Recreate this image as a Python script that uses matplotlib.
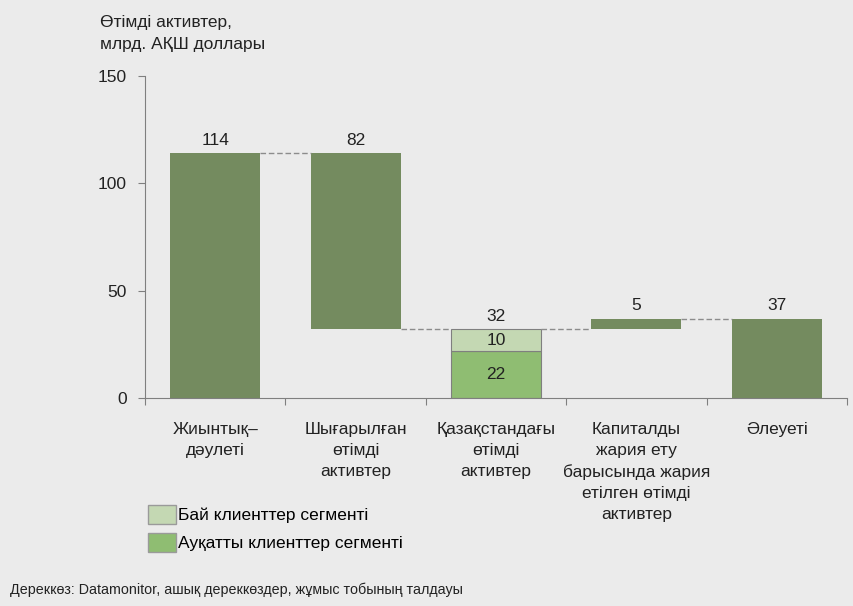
import numpy as np
import matplotlib.pyplot as plt
from matplotlib.patches import Patch

plt.rcParams['font.family'] = ['Liberation Sans', 'DejaVu Sans']

# waterfall data, bn USD
categories = ['Жиынтық–\nдәулеті', 'Шығарылған\nөтімді\nактивтер', 'Қазақстандағы\nөтімді\nактивтер',
              'Капиталды\nжария ету\nбарысында жария\nетілген өтімді\nактивтер', 'Әлеуеті']
values = [114, 82, 32, 5, 37]
rich_segment = 10
affluent_segment = 22
legend_labels = ['Бай клиенттер сегменті', 'Ауқатты клиенттер сегменті']

bg = '#ebebeb'
dark = '#748b5f'
mid = '#8fbd72'
light = '#c4d8b3'
txt = '#222222'
fs = 12.5

fig = plt.figure(figsize=(8.54, 6.06), dpi=100, facecolor=bg)
ax = fig.add_axes([145/854, 1-398/606, (847-145)/854, (398-76)/606])
ax.set_facecolor(bg)

x = np.arange(len(values))
w = 0.64

# bottoms / tops of each waterfall step
total = values[0]
after_out = total - values[1]
after_add = after_out + values[3]
tops = [total, total, after_out, after_add, values[4]]

ax.bar(x[0], values[0], w, bottom=0, color=dark)
ax.bar(x[1], values[1], w, bottom=after_out, color=dark)
ax.bar(x[2], affluent_segment, w, bottom=0, color=mid, edgecolor='#7f7f7f', lw=0.8)
ax.bar(x[2], rich_segment, w, bottom=affluent_segment, color=light, edgecolor='#7f7f7f', lw=0.8)
ax.bar(x[3], values[3], w, bottom=after_out, color=dark)
ax.bar(x[4], values[4], w, bottom=0, color=dark)

# dashed connectors
levels = [total, after_out, after_out, after_add]
for i, lv in enumerate(levels):
    ax.plot([x[i] + w/2, x[i+1] - w/2], [lv, lv], ls=(0, (4, 2)), color='#8c8c8c', lw=1)

for i, v in enumerate(values):
    ax.text(x[i], tops[i] + 2.5, str(v), ha='center', va='bottom', fontsize=fs, color=txt)
ax.text(x[2], affluent_segment + rich_segment/2, str(rich_segment), ha='center', va='center', fontsize=fs, color=txt)
ax.text(x[2], affluent_segment/2, str(affluent_segment), ha='center', va='center', fontsize=fs, color=txt)

ax.set_xlim(-0.5, len(values) - 0.5)
ax.set_ylim(0, 150)
ax.set_yticks([0, 50, 100, 150])
ax.set_xticks(np.arange(len(values) + 1) - 0.5)
ax.set_xticklabels([])
ax.set_xticks(x, minor=True)
ax.set_xticklabels(categories, minor=True, fontsize=fs, color=txt, linespacing=1.5)
ax.tick_params(axis='x', which='major', length=5, color='#7f7f7f', direction='out')
ax.tick_params(axis='x', which='minor', length=0, pad=17)
ax.tick_params(axis='y', length=5, color='#7f7f7f', labelsize=fs, labelcolor=txt, pad=8)
for s in ['top', 'right']:
    ax.spines[s].set_visible(False)
for s in ['left', 'bottom']:
    ax.spines[s].set_color('#7f7f7f')

fig.text(100/854, 1-15/606, 'Өтімді активтер,\nмлрд. АҚШ доллары', ha='left', va='top', fontsize=fs, color=txt, linespacing=1.6)

handles = [Patch(facecolor=light, edgecolor='#9a9a9a'), Patch(facecolor=mid, edgecolor='#9a9a9a')]
fig.legend(handles, legend_labels, loc='upper left', bbox_to_anchor=(148/854, 1-505/606), frameon=False,
           fontsize=fs, handlelength=1.6, handleheight=1.3, handletextpad=0.15, labelspacing=0.5,
           borderaxespad=0, borderpad=0)

fig.text(10/854, 1-590/606, 'Дереккөз: Datamonitor, ашық дереккөздер, жұмыс тобының талдауы',
         ha='left', va='center', fontsize=10.3, color=txt)

fig.savefig('out.png', dpi=100, facecolor=bg)
